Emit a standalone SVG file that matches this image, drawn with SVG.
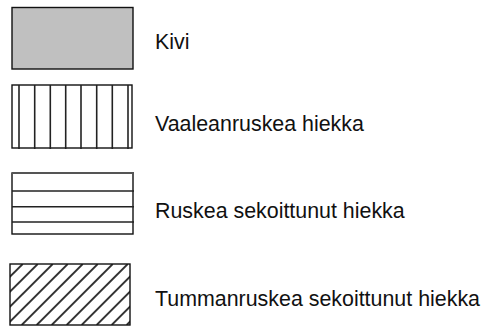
<svg xmlns="http://www.w3.org/2000/svg" width="484" height="329" viewBox="0 0 484 329">
<style>
.t{font-family:"Liberation Sans",Arial,sans-serif;font-size:21.4px;fill:#111}
.b{fill:none;stroke:#111;stroke-width:1.4}
.l{stroke:#222;stroke-width:1.6}
.d{stroke:#333;stroke-width:1.9}
</style>
<defs>
<clipPath id="c4"><rect x="10" y="264" width="120" height="61"/></clipPath>
</defs>
<rect width="484" height="329" fill="#fff"/>
<g id="kivi">
<rect x="12" y="7.5" width="121" height="61.5" fill="#c0c0c0" stroke="#111" stroke-width="1.4"/>
<text class="t" x="155" y="49">Kivi</text>
</g>
<g id="vaalea">
<rect class="b" x="12" y="85" width="120" height="63"/>
<g class="l">
<line x1="19" y1="85" x2="19" y2="149"/>
<line x1="34.7" y1="85" x2="34.7" y2="149"/>
<line x1="50.3" y1="85" x2="50.3" y2="149"/>
<line x1="65.7" y1="85" x2="65.7" y2="149"/>
<line x1="81" y1="85" x2="81" y2="149"/>
<line x1="96.7" y1="85" x2="96.7" y2="149"/>
<line x1="112.3" y1="85" x2="112.3" y2="149"/>
<line x1="128" y1="85" x2="128" y2="149"/>
</g>
<text class="t" x="155" y="131">Vaaleanruskea hiekka</text>
</g>
<g id="ruskea">
<rect class="b" x="12" y="173" width="121" height="61"/>
<g class="l">
<line x1="12" y1="173" x2="134" y2="173" stroke="#555" stroke-width="2"/>
<line x1="12" y1="191" x2="134" y2="191"/>
<line x1="12" y1="206.7" x2="134" y2="206.7"/>
<line x1="12" y1="222" x2="134" y2="222"/>
</g>
<text class="t" x="155" y="218">Ruskea sekoittunut hiekka</text>
</g>
<g id="tumma">
<g class="d" clip-path="url(#c4)">
<line x1="-38.3" y1="325" x2="22.7" y2="264"/>
<line x1="-23.3" y1="325" x2="37.7" y2="264"/>
<line x1="-8.3" y1="325" x2="52.7" y2="264"/>
<line x1="6.7" y1="325" x2="67.7" y2="264"/>
<line x1="21.7" y1="325" x2="82.7" y2="264"/>
<line x1="36.7" y1="325" x2="97.7" y2="264"/>
<line x1="51.7" y1="325" x2="112.7" y2="264"/>
<line x1="66.7" y1="325" x2="127.7" y2="264"/>
<line x1="81.7" y1="325" x2="142.7" y2="264"/>
<line x1="96.7" y1="325" x2="157.7" y2="264"/>
<line x1="111.7" y1="325" x2="172.7" y2="264"/>
<line x1="126.7" y1="325" x2="187.7" y2="264"/>
</g>
<rect class="b" x="10" y="264" width="120" height="61"/>
<text class="t" x="155" y="306">Tummanruskea sekoittunut hiekka</text>
</g>
</svg>
